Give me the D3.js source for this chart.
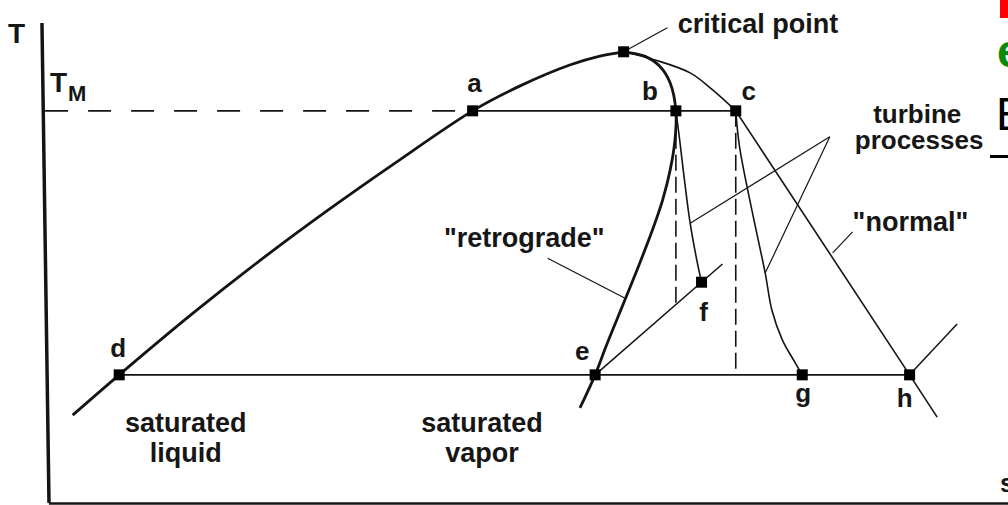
<!DOCTYPE html>
<html>
<head>
<meta charset="utf-8">
<script src="https://cdn.jsdelivr.net/npm/d3@7/dist/d3.min.js"></script>
<style>
  html, body { margin: 0; padding: 0; background: #fff; overflow: hidden; }
  svg { display: block; }
  text { font-family: "Liberation Sans", Arial, Helvetica, sans-serif; font-weight: bold; fill: #161616; }
</style>
</head>
<body>
<svg id="chart" width="1008" height="505"></svg>
<script>
// ---- T-s diagram data (entropy s, temperature T, relative units 0..100) ----
const satLiquid = [[2.7,18.3],[7.6,26.7],[15.4,39.6],[22.4,50.5],[29.5,60.9],[36.4,70.5],
                   [44.8,81.7],[49.8,86.9],[55.1,91.3],[58.2,93.1],[60.7,94.0]];
const satVaporRetro = [[60.7,94.0],[62.9,93.1],[64.5,91.0],[65.6,87.5],[66.2,81.7],[66.1,75.6],
                       [65.6,69.4],[64.8,63.1],[63.7,56.7],[62.1,48.5],[60.4,40.2],[58.9,32.9],
                       [57.7,26.7],[56.1,19.8]];
const satVaporNormalDome = [[60.7,94.0],[64.0,92.3],[67.7,89.6],[70.1,86.0],[72.5,81.7]];
const satVaporNormalLine = [[72.5,81.7],[90.8,26.7],[93.7,17.9]];
const turbineRetro = [[66.2,81.7],[66.6,75.6],[67.1,67.3],[67.7,58.3],[68.4,50.6],[68.9,46.0]];
const turbineNormal = [[72.5,81.7],[72.9,74.2],[74.2,61.0],[75.6,47.9],[76.3,40.2],[77.4,34.0],
                       [78.7,29.4],[79.5,26.7]];
const isobarRetro = [[57.7,26.7],[71.1,49.8]];
const isobarNormal = [[90.8,26.7],[95.8,37.3]];
const TM = 81.7;          // upper (evaporation) temperature
const TC = 26.7;          // condensation temperature
const statePoints = [
  { name: "a", s: 44.8, T: 81.7 },
  { name: "b", s: 66.2, T: 81.7 },
  { name: "c", s: 72.5, T: 81.7 },
  { name: "d", s: 7.6,  T: 26.7 },
  { name: "e", s: 57.7, T: 26.7 },
  { name: "f", s: 68.9, T: 46.0 },
  { name: "g", s: 79.5, T: 26.7 },
  { name: "h", s: 90.8, T: 26.7 }
];
const criticalPoint = { s: 60.7, T: 94.0 };
const isentropes = [ { s: 66.2, T0: 81.7, T1: 41.4 }, { s: 72.5, T0: 81.7, T1: 26.7 } ];

// ---- scales ----
const svg = d3.select("#chart");
const x = d3.scaleLinear().domain([0, 100]).range([47, 997]);
const y = d3.scaleLinear().domain([0, 100]).range([503, 23]);

const smooth = d3.line().x(d => x(d[0])).y(d => y(d[1])).curve(d3.curveCatmullRom.alpha(0.5));
const straight = d3.line().x(d => x(d[0])).y(d => y(d[1]));

const ink = "#141414";
function path(data, gen, w, dash) {
  const p = svg.append("path").attr("d", gen(data)).attr("fill", "none")
    .attr("stroke", ink).attr("stroke-width", w).attr("stroke-linejoin", "round");
  if (dash) p.attr("stroke-dasharray", dash);
  return p;
}

// ---- axes ----
path([[-0.53, 100], [0.21, 0]], straight, 3.5);
path([[0.2, -0.1], [101.2, -0.1]], straight, 2.5);

// T_M reference line
path([[-0.2, TM], [44.8, TM]], straight, 1.6, "23,20");

// constant temperature lines
path([[44.8, TM], [72.5, TM]], straight, 1.8);
path([[7.6, TC], [90.8, TC]], straight, 1.8);

// saturation curves
path(satLiquid, smooth, 2.8);
path(satVaporRetro, smooth, 2.8);
path(satVaporNormalDome, smooth, 1.6);
path(satVaporNormalLine, straight, 1.6);

// isobars through the expansion end states
path(isobarRetro, straight, 1.5);
path(isobarNormal, straight, 1.5);

// isentropic expansions (dashed)
isentropes.forEach(d => path([[d.s, d.T0], [d.s, d.T1]], straight, 1.6, "16,6"));

// real turbine processes
path(turbineRetro, smooth, 1.6);
path(turbineNormal, smooth, 1.6);

// leader lines
path([[criticalPoint.s, criticalPoint.T], [65.3, 99.0]], straight, 1.2);
path([[82.4, 76.3], [67.7, 58.3]], straight, 1.2);
path([[82.4, 76.3], [75.6, 47.9]], straight, 1.2);
path([[84.8, 56.5], [82.7, 52.1]], straight, 1.2);
path([[52.7, 51.0], [60.8, 42.7]], straight, 1.2);

// state markers
const mk = 11;
svg.selectAll("rect.state").data(statePoints.concat([{ name: "", ...criticalPoint }]))
  .enter().append("rect").attr("class", "state")
  .attr("x", d => x(d.s) - mk / 2).attr("y", d => y(d.T) - mk / 2)
  .attr("width", mk).attr("height", mk).attr("fill", "#000");

// state labels
const labelOffset = { a: [2, -19], b: [-26, -11], c: [13, -11], d: [-1, -18],
                      e: [-13, -15], f: [2, 39], g: [1, 27], h: [-5, 32] };
svg.selectAll("text.state").data(statePoints).enter().append("text")
  .attr("class", "state")
  .attr("x", d => x(d.s) + labelOffset[d.name][0])
  .attr("y", d => y(d.T) + labelOffset[d.name][1])
  .attr("text-anchor", "middle").attr("font-size", 26).text(d => d.name);

// annotation text
function label(txt, s, T, anchor, size) {
  return svg.append("text").attr("x", x(s)).attr("y", y(T))
    .attr("text-anchor", anchor || "start").attr("font-size", size || 27).text(txt);
}
label("critical point", 66.4, 97.9);
label("turbine", 91.6, 79.2, "middle", 26);
label("processes", 91.8, 73.8, "middle", 26);
label("\"normal\"", 84.8, 56.7);
label("\"retrograde\"", 58.7, 53.3, "end");
label("saturated", 14.6, 14.8, "middle");
label("liquid", 14.6, 8.5, "middle");
label("saturated", 45.8, 14.8, "middle");
label("vapor", 45.8, 8.5, "middle");

// axis titles
svg.append("text").attr("x", 8).attr("y", 43).attr("font-size", 28).text("T");
const tm = svg.append("text").attr("x", 50).attr("y", y(TM) - 19).attr("font-size", 28);
tm.append("tspan").text("T");
tm.append("tspan").attr("font-size", 22).attr("dy", 9).attr("dx", 1).text("M");
svg.append("text").attr("x", 1000).attr("y", 492).attr("font-size", 26).text("s");

// neighbouring slide text at the right edge
svg.append("rect").attr("x", 1000).attr("y", 0).attr("width", 8).attr("height", 18).attr("fill", "#ff0000");
svg.append("text").attr("x", 997).attr("y", 67).attr("font-size", 46).style("fill", "#0a8a0a").text("e");
svg.append("text").attr("x", 996).attr("y", 130).attr("font-size", 46)
  .style("font-weight", "normal").style("fill", "#000").text("E");
svg.append("rect").attr("x", 990).attr("y", 155).attr("width", 18).attr("height", 3).attr("fill", "#000");
</script>
</body>
</html>
